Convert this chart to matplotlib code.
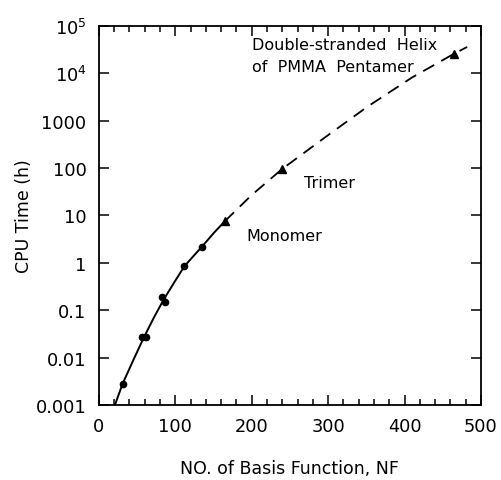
import numpy as np
import matplotlib.pyplot as plt
from matplotlib.ticker import FixedLocator, MultipleLocator

plt.rcParams['font.family'] = ['DejaVu Sans']

# measured points (monomer range, dots)
nf_dots = [31, 57, 61, 83, 87, 112, 135]
t_dots = [0.0028, 0.027, 0.027, 0.19, 0.15, 0.85, 2.2]

# triangles: monomer end, trimer, pentamer helix
nf_tri = [165, 240, 465]
t_tri = [7.6, 96, 26000]

# solid fitted curve
nf_solid = [21, 31, 45, 59, 72, 85, 100, 112, 124, 135, 150, 165]
t_solid = [0.001, 0.0028, 0.0088, 0.027, 0.07, 0.17, 0.42, 0.85, 1.4, 2.2, 4.2, 7.6]

# dashed extrapolation
nf_dash = [165, 200, 240, 298, 352, 410, 465, 482]
t_dash = [7.6, 27, 96, 470, 2000, 8200, 26000, 36000]

ytick_vals = [1e-3, 1e-2, 1e-1, 1, 10, 100, 1000, 1e4, 1e5]
ytick_labels = ['0.001', '0.01', '0.1', '1', '10', '100', '1000', r'$10^4$', r'$10^5$']

fig = plt.figure(figsize=(5.02, 4.81), dpi=100)
ax = fig.add_axes([0.197, 0.156, 0.761, 0.788])

ax.plot(nf_solid, t_solid, color='black', lw=1.4)
ax.plot(nf_dash, t_dash, color='black', lw=1.3, dashes=(7, 4.5))
ax.plot(nf_dots, t_dots, 'o', color='black', ms=4.5)
ax.plot(nf_tri, t_tri, '^', color='black', ms=5.5)

ax.set_yscale('log')
ax.set_xlim(0, 500)
ax.set_ylim(1e-3, 1e5)

ax.yaxis.set_major_locator(FixedLocator(ytick_vals))
ax.set_yticklabels(ytick_labels)
ax.yaxis.set_minor_locator(FixedLocator([]))
ax.xaxis.set_major_locator(MultipleLocator(100))
ax.xaxis.set_minor_locator(MultipleLocator(20))

ax.tick_params(which='both', direction='in', top=True, right=True, width=1.1)
ax.tick_params(which='major', length=7, labelsize=12.8, pad=9)
ax.tick_params(which='minor', length=4)
for s in ax.spines.values():
    s.set_linewidth(1.3)

ax.set_xlabel('NO. of Basis Function, NF', fontsize=12.5, labelpad=17)
ax.set_ylabel('CPU Time (h)', fontsize=12.5, labelpad=2)

ax.text(200, 2.4e4, 'Double-stranded  Helix\nof  PMMA  Pentamer', fontsize=11.5,
        va='center', ha='left', linespacing=1.55)
ax.text(268, 49, 'Trimer', fontsize=11.5, va='center', ha='left')
ax.text(193, 3.8, 'Monomer', fontsize=11.5, va='center', ha='left')

fig.savefig('out.png', dpi=100)
